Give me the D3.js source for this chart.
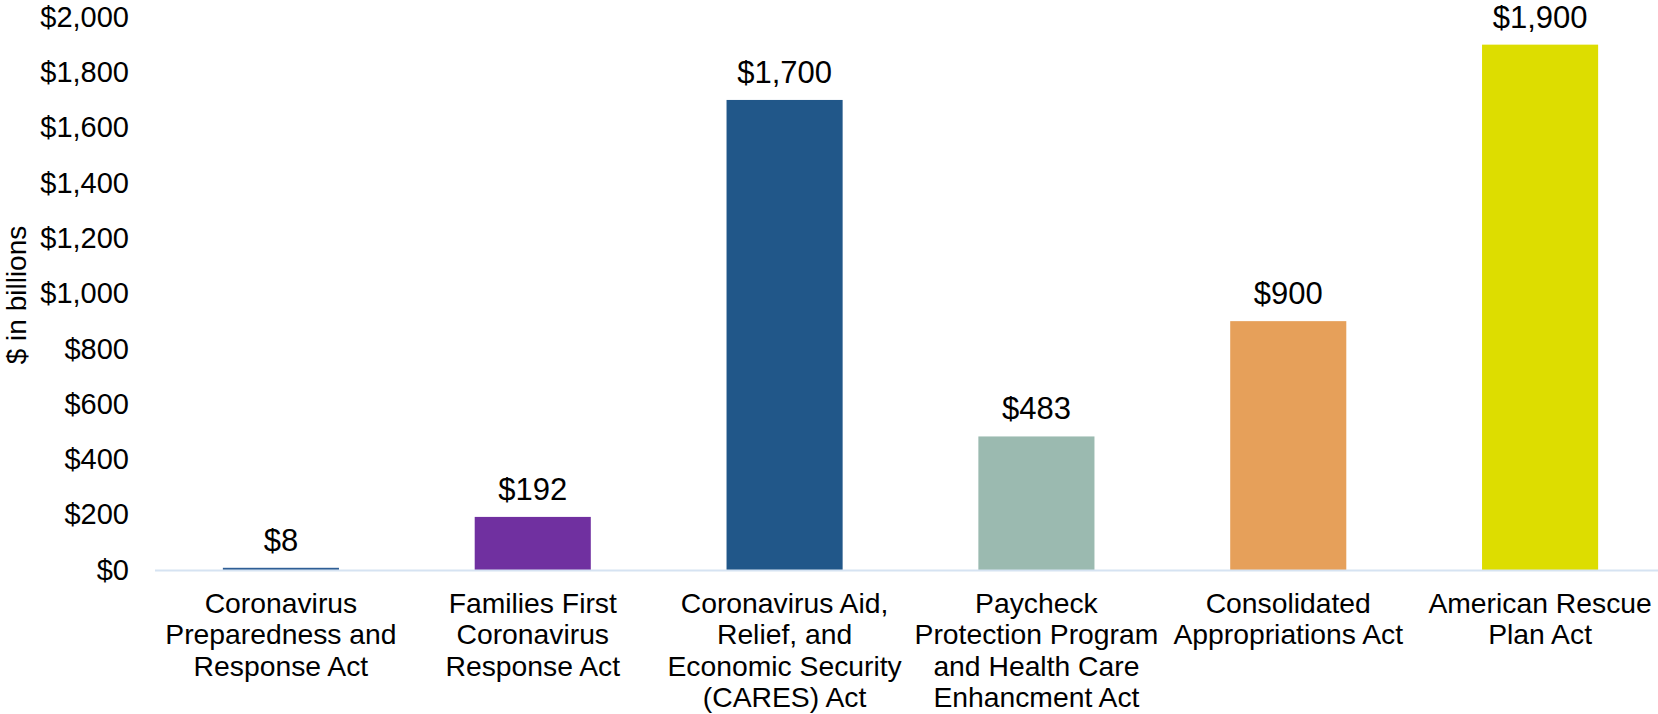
<!DOCTYPE html>
<html>
<head>
<meta charset="utf-8">
<script src="https://cdn.jsdelivr.net/npm/d3@7"></script>
<style>
  body { margin: 0; background: #fff; }
  text { font-family: "Liberation Sans", Arial, sans-serif; fill: #000; }
</style>
</head>
<body>
<div id="container"></div>
<script>
const width = 1658;
const height = 714;

// data
const acts = [
  ["Coronavirus", "Preparedness and", "Response Act"],
  ["Families First", "Coronavirus", "Response Act"],
  ["Coronavirus Aid,", "Relief, and", "Economic Security", "(CARES) Act"],
  ["Paycheck", "Protection Program", "and Health Care", "Enhancment Act"],
  ["Consolidated", "Appropriations Act"],
  ["American Rescue", "Plan Act"]
];
const amounts = [8, 192, 1700, 483, 900, 1900];
const barColors = ["#2F5E95", "#7030A0", "#215789", "#9BBAB0", "#E6A05A", "#DDDD00"];
const yTicks = [0, 200, 400, 600, 800, 1000, 1200, 1400, 1600, 1800, 2000];

const viz = d3.select("#container").append("svg").attr("width", width).attr("height", height);

let xScale = d3.scaleBand().domain(d3.range(acts.length)).range([155, 1666])
  .paddingInner(0.539).paddingOuter(0.2695);
let yScale = d3.scaleLinear().domain([0, 2000]).range([570, 17]);

let fmt = d => "$" + d3.format(",")(d);

// y axis labels only (no line)
let yAxis = d3.axisLeft(yScale).tickValues(yTicks).tickFormat(fmt).tickSize(0).tickPadding(0);
let yAxisGroup = viz.append("g").attr("transform", "translate(129,0)").call(yAxis);
yAxisGroup.select(".domain").remove();
yAxisGroup.selectAll("text")
  .attr("font-size", 29)
  .attr("font-family", "Liberation Sans, Arial, sans-serif")
  .attr("fill", "#000");

viz.append("text")
  .text("$ in billions")
  .attr("transform", "translate(26,295) rotate(-90)")
  .attr("text-anchor", "middle")
  .attr("font-size", 28);

// bars
let bars = viz.selectAll(".bar").data(amounts).enter().append("g").attr("class", "bar");
bars.append("rect")
  .attr("x", (d, i) => xScale(i))
  .attr("width", xScale.bandwidth())
  .attr("y", d => yScale(d))
  .attr("height", d => yScale(0) - yScale(d))
  .attr("fill", (d, i) => barColors[i]);

bars.append("text")
  .text(d => fmt(d))
  .attr("x", (d, i) => xScale(i) + xScale.bandwidth() / 2)
  .attr("y", d => yScale(d) - 17)
  .attr("text-anchor", "middle")
  .attr("font-size", 31);

// baseline
viz.append("line")
  .attr("x1", 155).attr("x2", width)
  .attr("y1", yScale(0) + 0.5).attr("y2", yScale(0) + 0.5)
  .attr("stroke", "#D6E3F2").attr("stroke-width", 2);

// category labels
let cats = viz.selectAll(".cat").data(acts).enter().append("text")
  .attr("class", "cat")
  .attr("text-anchor", "middle")
  .attr("font-size", 28.3)
  .attr("transform", (d, i) => "translate(" + (xScale(i) + xScale.bandwidth() / 2) + ",613)");
cats.selectAll("tspan").data(d => d).enter().append("tspan")
  .attr("x", 0)
  .attr("y", (d, j) => j * 31.3)
  .text(d => d);
</script>
</body>
</html>
